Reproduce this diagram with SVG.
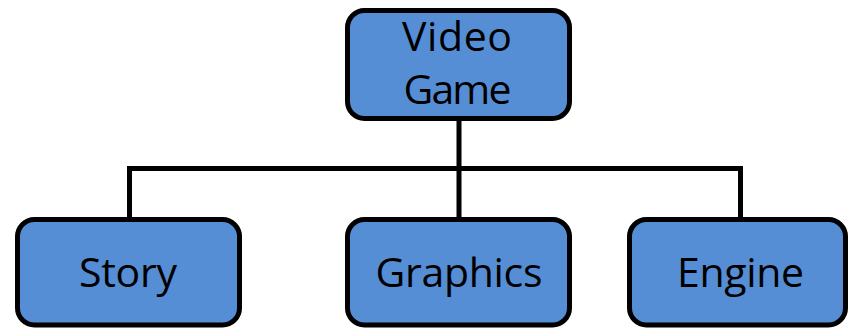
<svg xmlns="http://www.w3.org/2000/svg" width="848" height="328" viewBox="0 0 848 328">
<style>
.box{fill:#558ED5;stroke:#000;stroke-width:5}
.lbl{font-family:"Open Sans","Liberation Sans",sans-serif;font-size:41px;fill:#000;text-anchor:middle}
.con{fill:none;stroke:#000;stroke-width:5}
</style>
<rect width="848" height="328" fill="#fff"/>
<g id="connectors">
<path class="con" d="M459 118V168.5M129.5 218V168.5H740.5V218M459 168.5V218"/>
</g>
<g id="video-game">
<rect class="box" x="347.5" y="10.5" width="222" height="108" rx="17"/>
<text class="lbl" x="457" y="51" textLength="110">Video</text>
<text class="lbl" x="457.5" y="104" textLength="108">Game</text>
</g>
<g id="story">
<rect class="box" x="17.5" y="219.5" width="222" height="105.5" rx="17"/>
<text class="lbl" x="128" y="287" textLength="98">Story</text>
</g>
<g id="graphics">
<rect class="box" x="347.5" y="219.5" width="222" height="105.5" rx="17"/>
<text class="lbl" x="459" y="287" textLength="167">Graphics</text>
</g>
<g id="engine">
<rect class="box" x="629.5" y="219.5" width="216" height="105.5" rx="17"/>
<text class="lbl" x="740.5" y="287" textLength="127">Engine</text>
</g>
</svg>
